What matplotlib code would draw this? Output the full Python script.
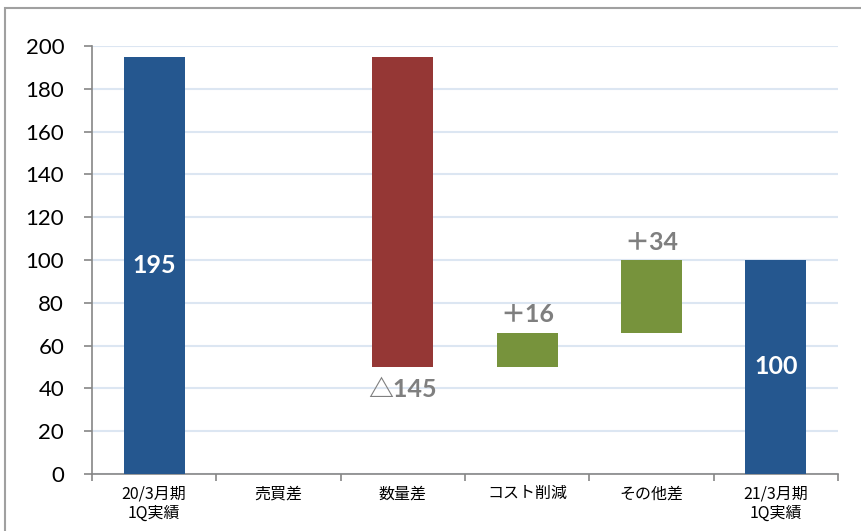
import matplotlib
matplotlib.use("Agg")
import matplotlib.pyplot as plt
from matplotlib.patches import Rectangle

plt.rcParams['font.family'] = ['Lato', 'Noto Sans CJK JP', 'DejaVu Sans']

categories = ["20/3月期\n1Q実績", "売買差", "数量差", "コスト削減", "その他差", "21/3月期\n1Q実績"]
values = [195, 0, -145, 16, 34, 100]
kinds = ["total", "delta", "delta", "delta", "delta", "total"]
labels = ["195", "", "△145", "＋16", "＋34", "100"]
yticks = [0, 20, 40, 60, 80, 100, 120, 140, 160, 180, 200]

blue = "#25578F"
red = "#953735"
green = "#77933C"
gray_txt = "#7F7F7F"

fig = plt.figure(figsize=(8.62, 5.31), dpi=100)
ax = fig.add_axes([92/862, 1 - 474/531, (838-92)/862, (474-46)/531])

# outer frame
fig.patches.append(Rectangle((5/862, -0.1), 1.2, 1 - 8/531 + 0.1, transform=fig.transFigure,
                             fill=False, edgecolor="#A0A0A0", linewidth=1.5, zorder=0))

running = 0
for i, (v, k, lab) in enumerate(zip(values, kinds, labels)):
    if k == "total":
        bottom, height = 0, v
        running = v
        color = blue
    else:
        if v == 0:
            continue
        if v < 0:
            bottom, height = running + v, -v
            color = red
        else:
            bottom, height = running, v
            color = green
        running += v
    ax.bar(i, height, bottom=bottom, width=0.49, color=color, zorder=3)
    if k == "total":
        ax.text(i, bottom + height / 2, lab, ha="center", va="center", color="white",
                fontsize=18, fontweight="bold", zorder=4)
    elif v < 0:
        ax.text(i, bottom - 5, lab, ha="center", va="top", color=gray_txt,
                fontsize=18, fontweight="bold", zorder=4)
    else:
        ax.text(i, bottom + height + 3, lab, ha="center", va="bottom", color=gray_txt,
                fontsize=18, fontweight="bold", zorder=4)

ax.set_xlim(-0.5, len(categories) - 0.5)
ax.set_ylim(0, 200)
ax.set_yticks(yticks)
ax.tick_params(axis="y", labelsize=16, colors="#000000", length=6, width=1.2, color="#868686", pad=14)
ax.yaxis.grid(True, color="#DCE6F2", linewidth=1.5, zorder=0)
ax.set_axisbelow(True)

ax.set_xticks(range(len(categories)))
ax.set_xticklabels(categories, fontsize=11.5, family=['Noto Sans CJK JP', 'DejaVu Sans'], linespacing=1.2)
ax.tick_params(axis="x", length=0, pad=8)
# minor ticks at category boundaries
ax.set_xticks([i + 0.5 for i in range(-1, len(categories))], minor=True)
ax.tick_params(axis="x", which="minor", length=5, width=1.2, color="#868686", direction="out")

for s in ["top", "right"]:
    ax.spines[s].set_visible(False)
for s in ["left", "bottom"]:
    ax.spines[s].set_color("#868686")
    ax.spines[s].set_linewidth(1.2)

fig.savefig("out.png", dpi=100)
